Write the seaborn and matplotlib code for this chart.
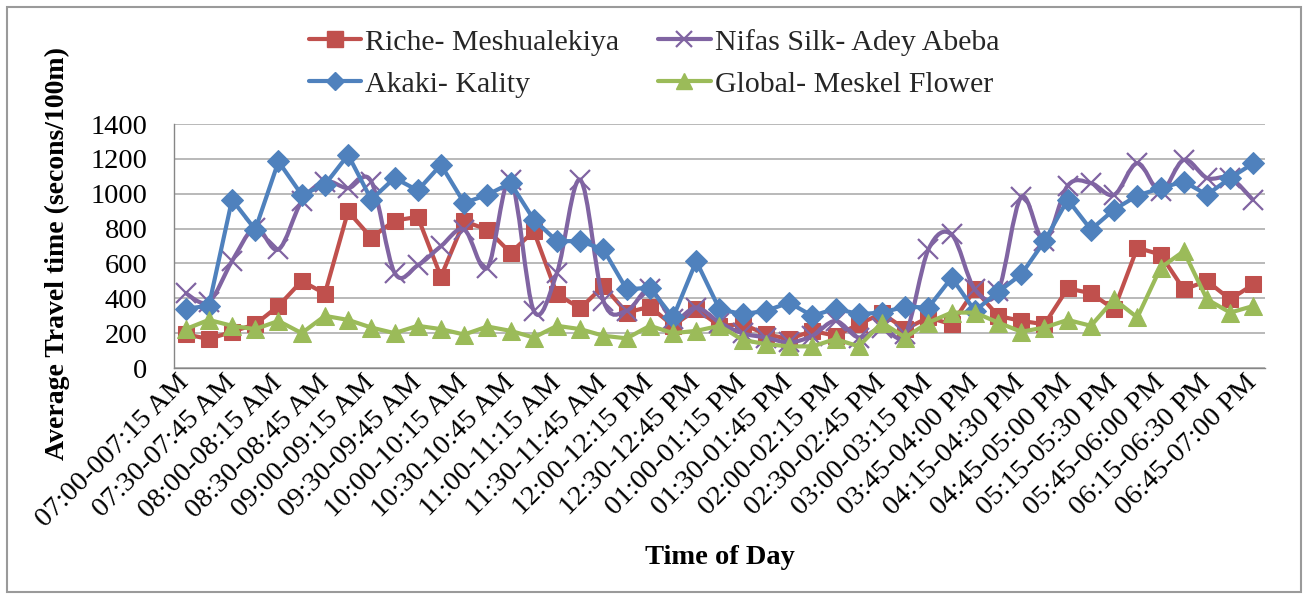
import numpy as np
import pandas as pd
import matplotlib
matplotlib.use("Agg")
import matplotlib.pyplot as plt
import seaborn as sns
from matplotlib.lines import Line2D
from matplotlib.path import Path
from matplotlib.patches import PathPatch, Rectangle

# ---------------- data ----------------
tick_labels = ["07:00-007:15 AM", "07:30-07:45 AM", "08:00-08:15 AM", "08:30-08:45 AM",
               "09:00-09:15 AM", "09:30-09:45 AM", "10:00-10:15 AM", "10:30-10:45 AM",
               "11:00-11:15 AM", "11:30-11:45 AM", "12:00-12:15 PM", "12:30-12:45 PM",
               "01:00-01:15 PM", "01:30-01:45 PM", "02:00-02:15 PM", "02:30-02:45 PM",
               "03:00-03:15 PM", "03:45-04:00 PM", "04:15-04:30 PM", "04:45-05:00 PM",
               "05:15-05:30 PM", "05:45-06:00 PM", "06:15-06:30 PM", "06:45-07:00 PM"]

riche = [194, 166, 208, 251, 356, 499, 427, 899, 747, 846, 867, 524, 842, 794, 661, 785,
         423, 343, 470, 318, 352, 242, 337, 242, 251, 194, 166, 213, 185, 251, 314, 223,
         290, 251, 451, 299, 270, 251, 457, 429, 337, 690, 651, 451, 499, 394, 480]
nifas = [429, 379, 613, 804, 680, 956, 1070, 1032, 1070, 547, 589, 699, 794, 575, 1080, 328,
         547, 1080, 385, 328, 451, 280, 347, 261, 199, 175, 147, 185, 270, 175, 232, 194,
         680, 766, 451, 440, 981, 728, 1046, 1061, 994, 1175, 1013, 1194, 1090, 1090, 962]
akaki = [341, 356, 966, 794, 1185, 994, 1051, 1223, 966, 1090, 1019, 1166, 947, 994, 1061, 851,
         728, 728, 680, 451, 461, 290, 613, 337, 309, 328, 375, 299, 341, 309, 318, 352,
         347, 518, 328, 436, 537, 728, 966, 794, 909, 989, 1032, 1070, 994, 1090, 1175]
globl = [223, 276, 242, 223, 270, 200, 299, 276, 232, 200, 242, 223, 192, 238, 213, 175,
         242, 223, 185, 170, 242, 200, 213, 242, 161, 137, 124, 124, 166, 124, 261, 175,
         261, 318, 318, 261, 208, 232, 276, 242, 394, 290, 575, 670, 394, 318, 356]

series_names = ["Riche- Meshualekiya", "Nifas Silk- Adey Abeba", "Akaki- Kality", "Global- Meskel Flower"]

# ---------------- style ----------------
sns.set_theme(style="white")
plt.rcParams["font.family"] = ["Liberation Serif", "DejaVu Serif"]

W, H = 1303, 596
fig = plt.figure(figsize=(W / 100, H / 100), dpi=100)
ax = fig.add_axes([174 / W, 1 - 368 / H, (1265 - 174) / W, (368 - 124) / H])

x = np.arange(len(riche))
df = pd.DataFrame({"x": x, "riche": riche, "nifas": nifas, "akaki": akaki, "global": globl})

c_red, c_pur, c_blu, c_grn = "#C0504D", "#8064A2", "#4F81BD", "#9BBB59"
LW = 3.0

sns.lineplot(data=df, x="x", y="riche", ax=ax, color=c_red, linewidth=LW,
             marker="s", markersize=12, markeredgecolor=c_red, zorder=3)

# Nifas Silk: smoothed line (Catmull-Rom through the data points) + markers
px = df["x"].to_numpy(dtype=float)
py = df["nifas"].to_numpy(dtype=float)
P = np.column_stack([px, py])
Pe = np.vstack([P[0], P, P[-1]])
verts = [tuple(P[0])]
codes = [Path.MOVETO]
for i in range(len(P) - 1):
    p0, p1, p2, p3 = Pe[i], Pe[i + 1], Pe[i + 2], Pe[i + 3]
    c1 = p1 + (p2 - p0) / 6.0
    c2 = p2 - (p3 - p1) / 6.0
    verts += [tuple(c1), tuple(c2), tuple(p2)]
    codes += [Path.CURVE4] * 3
ax.add_patch(PathPatch(Path(verts, codes), facecolor="none", edgecolor=c_pur,
                       linewidth=LW, zorder=4))
sns.lineplot(data=df, x="x", y="nifas", ax=ax, color=c_pur, linewidth=0,
             marker="x", markersize=14, markeredgewidth=1.6, markeredgecolor=c_pur, zorder=4)

sns.lineplot(data=df, x="x", y="akaki", ax=ax, color=c_blu, linewidth=LW,
             marker="D", markersize=11.5, markeredgecolor=c_blu, zorder=5)
sns.lineplot(data=df, x="x", y="global", ax=ax, color=c_grn, linewidth=LW,
             marker="^", markersize=13, markeredgecolor=c_grn, zorder=6)

# ---------------- axes ----------------
gray = "#868686"
n = len(riche)
ax.set_xlim(-0.5, n - 0.5)
ax.set_ylim(0, 1400)
ax.set_yticks(np.arange(0, 1401, 200))
ax.yaxis.grid(True, color="#A6A6A6", linewidth=1.1)
ax.xaxis.grid(False)
ax.set_axisbelow(True)
for s in ["top", "right"]:
    ax.spines[s].set_visible(False)
for s in ["left", "bottom"]:
    ax.spines[s].set_color(gray)
    ax.spines[s].set_linewidth(1.0)

bounds = np.arange(n + 1) - 0.5
ax.set_xticks(bounds, labels=[""] * len(bounds))
ax.set_xticks(np.arange(0, n, 2), labels=tick_labels, minor=True)
ax.tick_params(axis="x", which="major", direction="out", length=7, color=gray, width=1)
ax.tick_params(axis="x", which="minor", length=0, pad=8, labelsize=20.5, labelcolor="black")
for lab in ax.get_xticklabels(minor=True):
    lab.set_rotation(45)
    lab.set_ha("right")
    lab.set_va("center")
    lab.set_rotation_mode("anchor")
ax.tick_params(axis="y", direction="out", length=8, color=gray, width=1,
               labelsize=20.5, labelcolor="black", pad=11)

ax.set_xlabel("Time of Day", fontsize=20.5, fontweight="bold", color="black")
ax.xaxis.set_label_coords(0.5, -0.725)
ax.set_ylabel("Average Travel time (secons/100m)", fontsize=20, fontweight="bold", color="black")
ax.yaxis.set_label_coords(-0.095, 0.47)

# ---------------- legend ----------------
def h(c, m, ms, mew=1.0):
    return Line2D([], [], color=c, linewidth=LW, marker=m, markersize=ms,
                  markeredgecolor=c, markeredgewidth=mew)

handles = [h(c_red, "s", 11), h(c_blu, "D", 9), h(c_pur, "x", 12, 1.6), h(c_grn, "^", 12)]
labels = [series_names[0], series_names[2], series_names[1], series_names[3]]
fig.legend(handles, labels, ncol=2, loc="upper center", bbox_to_anchor=(0.502, 1 - 17 / H),
           frameon=False, fontsize=21.5, handlelength=1.75, handletextpad=0.15,
           columnspacing=1.3, labelspacing=0.5, borderaxespad=0)

# outer chart border
fig.add_artist(Rectangle((7 / W, 4 / H), (1301 - 7) / W, (592 - 7) / H, transform=fig.transFigure,
                         fill=False, edgecolor="#9A9A9A", linewidth=1.5))

fig.savefig("out.png", dpi=100)
